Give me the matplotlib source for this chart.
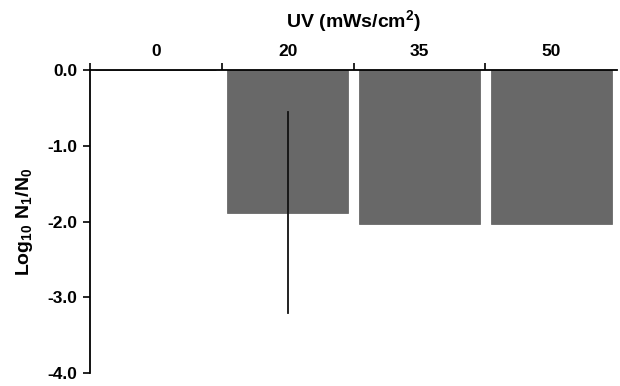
import matplotlib
matplotlib.use("Agg")
import matplotlib.pyplot as plt
import numpy as np

plt.rcParams['font.family'] = ['Liberation Sans', 'DejaVu Sans']
plt.rcParams['font.weight'] = 'bold'
plt.rcParams['mathtext.fontset'] = 'custom'
plt.rcParams['mathtext.rm'] = 'Liberation Sans:bold'
plt.rcParams['mathtext.bf'] = 'Liberation Sans:bold'
plt.rcParams['mathtext.it'] = 'Liberation Sans:bold'

categories = ['0', '20', '35', '50']
values = [0.0, -1.89, -2.03, -2.03]
err_low = [None, -3.21, None, None]
err_high = [None, -0.56, None, None]
yticks = [0.0, -1.0, -2.0, -3.0, -4.0]

fig = plt.figure(figsize=(6.2, 3.86), dpi=100)
ax = fig.add_axes([90/620, 1-373/386, (617-90)/620, (373-70)/386])

x = np.arange(len(categories))
ax.bar(x, values, width=0.92, color='#686868', edgecolor='#5a5a5a', linewidth=0.5, zorder=2)
for i in range(len(categories)):
    if err_low[i] is not None:
        ax.plot([x[i], x[i]], [err_low[i], err_high[i]], color='#111111', lw=1.3, zorder=3)

ax.set_xlim(-0.5, 3.5)
ax.set_ylim(-4.0, 0.0)
ax.spines['bottom'].set_visible(False)
ax.spines['right'].set_visible(False)
ax.spines['top'].set_linewidth(1.3)
ax.spines['left'].set_linewidth(1.3)
ax.spines['top'].set_zorder(4)

ax.xaxis.tick_top()
ax.set_xticks(np.arange(-0.5, 3.0, 1.0))
ax.set_xticklabels([])
ax.set_xticks(x, minor=True)
ax.set_xticklabels(categories, minor=True, fontsize=12.5, fontweight='bold')
ax.tick_params(axis='x', which='major', direction='out', length=5, width=1.2, top=True, bottom=False)
ax.tick_params(axis='x', which='minor', length=0, pad=8, top=True, bottom=False)

ax.set_yticks(yticks)
ax.set_yticklabels([f'{v:.1f}' for v in yticks], fontsize=12.5, fontweight='bold')
ax.tick_params(axis='y', direction='out', length=5, width=1.2, pad=4)

ax.set_xlabel(r'UV (mWs/cm$^{\mathbf{2}}$)', fontsize=14, fontweight='bold', labelpad=12)
ax.xaxis.set_label_position('top')
ax.set_ylabel(r'$\mathbf{Log_{10}\ N_1/N_0}$', fontsize=14, labelpad=9)

fig.savefig('out.png', dpi=100)
